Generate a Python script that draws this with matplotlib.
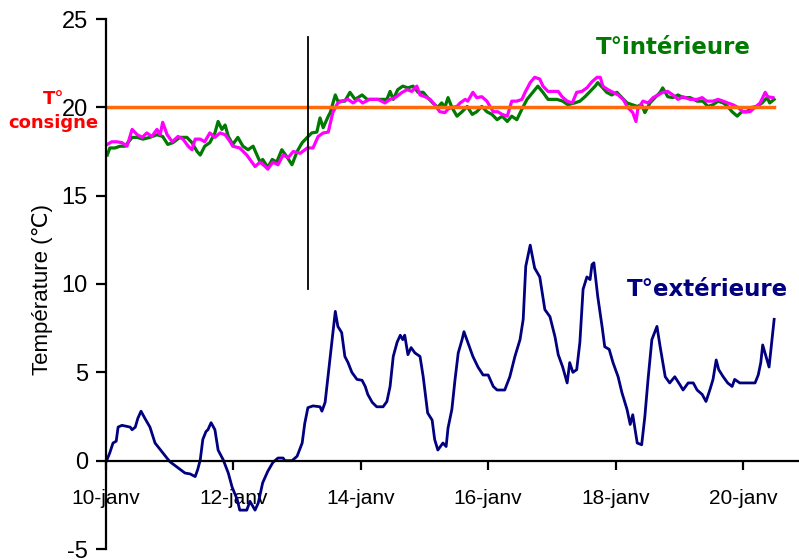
import matplotlib.pyplot as plt
from matplotlib import font_manager

# Jours depuis le 10 janvier 0h
jours_ext = [0.01, 0.06, 0.11, 0.16, 0.19, 0.25, 0.38, 0.41, 0.46, 0.50, 0.55, 0.61, 0.69, 0.77, 0.88,
             1.00, 1.11, 1.24, 1.32, 1.40, 1.44, 1.48, 1.52, 1.57, 1.60, 1.65, 1.71, 1.76, 1.84, 1.92,
             1.98, 2.06, 2.10, 2.21, 2.26, 2.34, 2.39, 2.46, 2.54, 2.62, 2.70, 2.78, 2.81, 2.92, 3.00,
             3.08, 3.12, 3.17, 3.25, 3.36, 3.39, 3.44, 3.52, 3.60, 3.64, 3.70, 3.75, 3.80, 3.86, 3.94,
             4.02, 4.07, 4.11, 4.18, 4.25, 4.35, 4.41, 4.46, 4.51, 4.57, 4.62, 4.66, 4.69, 4.74, 4.79,
             4.85, 4.93, 4.98, 5.05, 5.12, 5.16, 5.21, 5.29, 5.34, 5.37, 5.43, 5.48, 5.53, 5.59, 5.62,
             5.68, 5.76, 5.84, 5.92, 6.00, 6.08, 6.14, 6.26, 6.34, 6.42, 6.50, 6.55, 6.59, 6.66, 6.73,
             6.81, 6.89, 6.97, 7.05, 7.10, 7.17, 7.24, 7.28, 7.33, 7.39, 7.44, 7.49, 7.55, 7.60, 7.63,
             7.66, 7.72, 7.79, 7.83, 7.90, 7.96, 8.04, 8.10, 8.18, 8.23, 8.27, 8.34, 8.41, 8.46, 8.51,
             8.57, 8.65, 8.70, 8.78, 8.85, 8.93, 9.01, 9.06, 9.14, 9.22, 9.28, 9.36, 9.42, 9.48, 9.53,
             9.58, 9.62, 9.69, 9.76, 9.83, 9.87, 9.95, 10.19, 10.24, 10.28, 10.31, 10.41, 10.46, 10.49]
temp_ext = [0.0, 0.45, 1.0, 1.1, 1.9, 2.0, 1.9, 1.75, 1.9, 2.4, 2.8, 2.4, 1.9, 1.0, 0.5,
            -0.05, -0.35, -0.7, -0.75, -0.9, -0.5, 0.05, 1.2, 1.65, 1.75, 2.15, 1.75, 0.6, 0.05, -0.7,
            -1.5, -2.2, -2.8, -2.8, -2.3, -2.8, -2.4, -1.25, -0.6, -0.1, 0.15, 0.15, 0.0, 0.0, 0.25,
            1.0, 2.1, 3.0, 3.1, 3.05, 2.8, 3.3, 5.9, 8.45, 7.6, 7.25, 5.9, 5.55, 5.0, 4.6,
            4.55, 4.2, 3.75, 3.3, 3.05, 3.05, 3.35, 4.2, 5.9, 6.7, 7.1, 6.85, 7.1, 6.0, 6.4,
            6.1, 5.9, 4.75, 2.7, 2.3, 1.2, 0.6, 1.0, 0.8, 1.85, 2.9, 4.6, 6.1, 6.85, 7.3,
            6.7, 5.9, 5.3, 4.85, 4.85, 4.2, 4.0, 4.0, 4.75, 5.9, 6.85, 8.0, 11.0, 12.2, 10.9,
            10.4, 8.55, 8.15, 7.0, 6.0, 5.3, 4.4, 5.55, 5.0, 5.15, 6.7, 9.7, 10.4, 10.25, 11.1,
            11.2, 9.3, 7.55, 6.45, 6.3, 5.55, 4.75, 3.85, 2.9, 2.05, 2.6, 1.0, 0.9, 2.5, 4.6,
            6.85, 7.6, 6.45, 4.75, 4.4, 4.75, 4.3, 4.0, 4.4, 4.4, 4.0, 3.75, 3.35, 4.0, 4.6,
            5.7, 5.15, 4.75, 4.4, 4.2, 4.6, 4.4, 4.4, 4.85, 5.55, 6.55, 5.3, 7.0, 8.0]

# T° intérieure (vert)
jours_vert = [0.02, 0.06, 0.14, 0.22, 0.30, 0.41, 0.49, 0.58, 0.69, 0.80, 0.89, 0.97, 1.05, 1.16, 1.27,
              1.35, 1.43, 1.48, 1.55, 1.63, 1.71, 1.76, 1.82, 1.87, 1.92, 1.99, 2.07, 2.15, 2.23, 2.31,
              2.37, 2.42, 2.46, 2.54, 2.61, 2.68, 2.76, 2.84, 2.92, 3.00, 3.08, 3.16, 3.23, 3.31, 3.36,
              3.41, 3.49, 3.52, 3.60, 3.64, 3.75, 3.83, 3.91, 4.02, 4.10, 4.19, 4.30, 4.41, 4.46, 4.51,
              4.58, 4.66, 4.74, 4.82, 4.90, 4.98, 5.05, 5.13, 5.21, 5.27, 5.32, 5.37, 5.43, 5.51, 5.59,
              5.67, 5.75, 5.82, 5.90, 5.98, 6.06, 6.14, 6.22, 6.30, 6.37, 6.45, 6.53, 6.61, 6.70, 6.78,
              6.86, 6.94, 7.08, 7.17, 7.25, 7.36, 7.44, 7.52, 7.60, 7.68, 7.72, 7.80, 7.86, 7.94, 8.02,
              8.10, 8.18, 8.26, 8.34, 8.41, 8.46, 8.54, 8.62, 8.70, 8.74, 8.82, 8.90, 8.98, 9.06, 9.17,
              9.28, 9.37, 9.45, 9.53, 9.61, 9.69, 9.76, 9.83, 9.91, 9.98, 10.06, 10.14, 10.22, 10.30, 10.38,
              10.42, 10.49]
temp_vert = [17.3, 17.7, 17.7, 17.8, 17.8, 18.3, 18.3, 18.2, 18.3, 18.45, 18.35, 17.9, 18.0, 18.3, 18.3,
             18.0, 17.5, 17.3, 17.8, 18.0, 18.55, 19.2, 18.75, 19.0, 18.35, 17.9, 18.3, 17.8, 17.6, 17.8,
             17.3, 16.9, 17.05, 16.6, 17.05, 16.9, 17.6, 17.2, 16.75, 17.5, 18.0, 18.3, 18.55, 18.6, 19.4,
             18.85, 19.5, 19.7, 20.7, 20.35, 20.35, 20.85, 20.45, 20.7, 20.45, 20.45, 20.45, 20.45, 20.9, 20.45,
             21.0, 21.2, 21.1, 21.2, 20.85, 20.85, 20.55, 20.25, 20.0, 20.25, 20.0, 20.55, 20.0, 19.5, 19.75,
             20.05, 19.6, 19.75, 20.05, 19.75, 19.6, 19.3, 19.5, 19.2, 19.5, 19.3, 19.9, 20.45, 20.85, 21.2,
             20.85, 20.45, 20.45, 20.35, 20.15, 20.25, 20.35, 20.6, 20.9, 21.2, 21.4, 21.1, 20.85, 20.7, 20.85,
             20.55, 20.25, 20.15, 20.05, 20.15, 19.7, 20.25, 20.55, 20.85, 21.1, 20.6, 20.55, 20.7, 20.55, 20.55,
             20.35, 20.35, 20.05, 20.15, 20.35, 20.25, 20.05, 19.75, 19.5, 19.75, 19.75, 20.0, 20.05, 20.25, 20.55,
             20.25, 20.45]

# T° intérieure (rose)
jours_rose = [0.02, 0.09, 0.17, 0.25, 0.33, 0.41, 0.49, 0.57, 0.64, 0.72, 0.80, 0.85, 0.89, 0.96, 1.04,
              1.13, 1.21, 1.29, 1.35, 1.40, 1.48, 1.55, 1.63, 1.71, 1.79, 1.87, 1.95, 1.99, 2.10, 2.21,
              2.29, 2.34, 2.42, 2.50, 2.54, 2.62, 2.70, 2.78, 2.86, 2.94, 3.05, 3.16, 3.25, 3.33, 3.41,
              3.49, 3.56, 3.64, 3.70, 3.80, 3.88, 3.96, 4.03, 4.14, 4.27, 4.38, 4.46, 4.54, 4.65, 4.73,
              4.80, 4.88, 4.93, 5.01, 5.09, 5.16, 5.24, 5.32, 5.37, 5.43, 5.51, 5.56, 5.64, 5.68, 5.76,
              5.82, 5.90, 5.98, 6.03, 6.08, 6.15, 6.22, 6.30, 6.37, 6.45, 6.53, 6.58, 6.66, 6.73, 6.81,
              6.86, 6.94, 7.10, 7.16, 7.24, 7.32, 7.39, 7.47, 7.55, 7.63, 7.71, 7.76, 7.80, 7.88, 7.96,
              8.04, 8.12, 8.19, 8.27, 8.32, 8.35, 8.43, 8.51, 8.59, 8.67, 8.74, 8.82, 8.90, 8.98, 9.06,
              9.17, 9.28, 9.36, 9.43, 9.53, 9.61, 9.69, 9.76, 9.84, 9.92, 10.00, 10.11, 10.19, 10.27, 10.35,
              10.39, 10.47]
temp_rose = [17.9, 18.05, 18.05, 18.0, 17.8, 18.75, 18.45, 18.3, 18.55, 18.35, 18.75, 18.45, 19.15, 18.45, 18.05,
             18.35, 18.2, 17.8, 17.6, 18.2, 18.2, 18.05, 18.55, 18.3, 18.55, 18.45, 18.05, 17.8, 17.7, 17.3,
             16.9, 16.65, 16.9, 16.65, 16.5, 16.9, 16.75, 17.3, 17.15, 17.5, 17.4, 17.7, 17.7, 18.35, 18.55,
             18.6, 19.7, 20.25, 20.35, 20.45, 20.25, 20.45, 20.25, 20.45, 20.45, 20.25, 20.45, 20.55, 20.85, 21.0,
             20.9, 21.2, 20.7, 20.6, 20.45, 20.15, 19.75, 19.7, 19.9, 20.0, 20.05, 20.25, 20.45, 20.35, 20.85,
             20.55, 20.6, 20.35, 20.05, 19.75, 19.75, 19.6, 19.5, 20.35, 20.35, 20.45, 20.85, 21.4, 21.7, 21.6,
             21.2, 20.9, 20.9, 20.6, 20.35, 20.25, 20.85, 20.9, 21.1, 21.45, 21.7, 21.7, 21.2, 21.0, 20.85,
             20.7, 20.45, 20.0, 19.7, 19.2, 19.9, 20.35, 20.25, 20.55, 20.7, 20.85, 20.9, 20.7, 20.45, 20.6,
             20.45, 20.45, 20.55, 20.35, 20.35, 20.45, 20.35, 20.25, 20.15, 20.0, 19.75, 19.75, 20.0, 20.25, 20.85,
             20.6, 20.55]

consigne = 20
fin = 10.49
jour_trait = 3.17
trait_bas, trait_haut = 9.7, 24.0

tick_jours = [0, 2, 4, 6, 8, 10]
tick_labels = ['10-janv', '12-janv', '14-janv', '16-janv', '18-janv', '20-janv']
y_ticks = [-5, 0, 5, 10, 15, 20, 25]

# Police étroite type Arial Narrow si dispo
noms = {f.name for f in font_manager.fontManager.ttflist}
if 'Liberation Sans Narrow' in noms:
    police = ['Liberation Sans Narrow', 'DejaVu Sans']
    tx, ty, tl = 17, 18, 17
else:
    police = ['Liberation Sans', 'DejaVu Sans']
    tx, ty, tl = 15, 17, 16
plt.rcParams['font.family'] = police
plt.rcParams['axes.unicode_minus'] = False

fig = plt.figure(figsize=(7.99, 5.6), dpi=100)
ax = fig.add_axes([106 / 799, 11 / 560, 693 / 799, 530 / 560])

ax.plot(jours_ext, temp_ext, color='#000080', lw=2.0)
ax.plot(jours_vert, temp_vert, color='#007A00', lw=2.3)
ax.plot(jours_rose, temp_rose, color='#FF00FF', lw=2.3)
ax.plot([0, fin], [consigne, consigne], color='#FF6A0A', lw=2.5)
ax.plot([jour_trait, jour_trait], [trait_bas, trait_haut], color='black', lw=1.3)

ax.set_xlim(0, 10.88)
ax.set_ylim(-5, 25)

ax.spines['top'].set_visible(False)
ax.spines['right'].set_visible(False)
ax.spines['bottom'].set_position(('data', 0))
ax.spines['left'].set_linewidth(1.6)
ax.spines['bottom'].set_linewidth(1.6)

ax.set_xticks(tick_jours)
ax.set_xticklabels(tick_labels)
ax.set_yticks(y_ticks)
ax.tick_params(axis='x', direction='out', length=6.5, width=1.6, pad=14, labelsize=tx)
ax.tick_params(axis='y', direction='out', length=7, width=1.6, pad=6, labelsize=ty)

ax.set_ylabel('Température (℃)', fontsize=tl)
ax.yaxis.set_label_coords(-0.077, 0.49)

# Etiquettes des courbes
ax.text(8.90, 23.4, 'T°intérieure', color='#007A00', fontsize=16.5, fontweight='bold',
        family='DejaVu Sans', ha='center', va='center')
ax.text(9.44, 9.7, 'T°extérieure', color='#000080', fontsize=16.5, fontweight='bold',
        family='DejaVu Sans', ha='center', va='center')
ax.text(-0.83, 20.45, 'T°', color='#FF0000', fontsize=13, fontweight='bold',
        family='DejaVu Sans', ha='center', va='center', clip_on=False)
ax.text(-0.83, 19.1, 'consigne', color='#FF0000', fontsize=13, fontweight='bold',
        family='DejaVu Sans', ha='center', va='center', clip_on=False)

plt.savefig('out.png', dpi=100)
